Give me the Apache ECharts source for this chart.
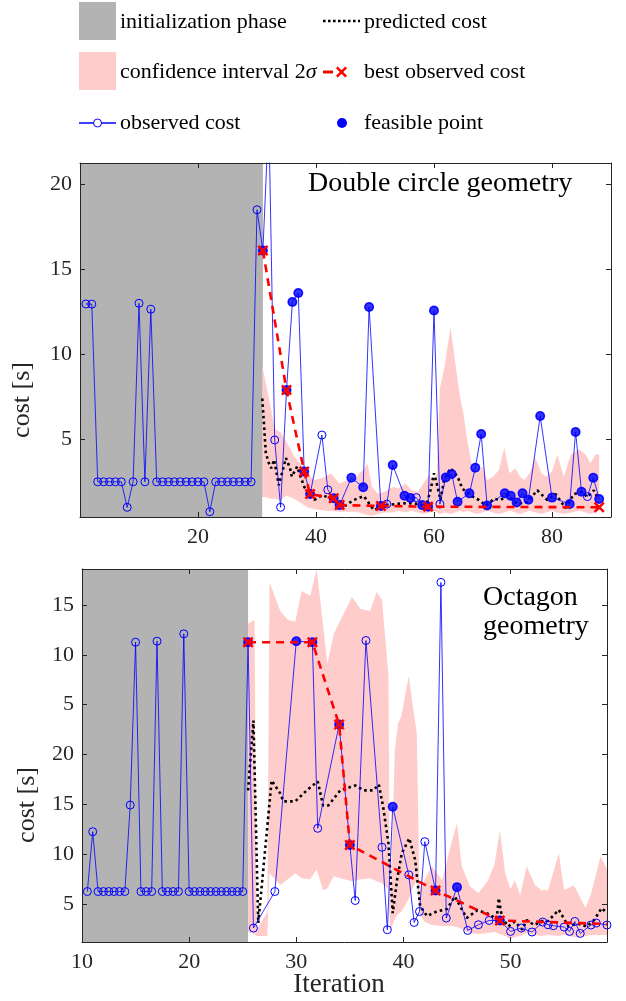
<!DOCTYPE html>
<html><head><meta charset="utf-8">
<script src="https://cdn.jsdelivr.net/npm/echarts@6/dist/echarts.min.js"></script>
<style>html,body{margin:0;padding:0;background:#fff}#c{width:626px;height:1001px}</style>
</head><body><div id="c"></div>
<script>
// ===== Top panel: Double circle geometry =====
const topInitEnd = 31;
const topObsX = [1,2,3,4,5,6,7,8,9,10,11,12,13,14,15,16,17,18,19,20,21,22,23,24,25,26,27,28,29,30,31,32,33,34,35,36,37,38,39,41,42,43,44,46,48,49,51,52,53,55,56,57,58,59,60,61,62,63,64,66,67,68,69,72,73,74,75,76,78,80,83,84,85,86,87,88];
const topObsY = [12.96,12.95,2.5,2.5,2.5,2.5,2.5,1.0,2.5,13.0,2.5,12.65,2.5,2.5,2.5,2.5,2.5,2.5,2.5,2.5,2.5,0.74,2.5,2.5,2.5,2.5,2.5,2.5,2.5,18.5,16.1,24,4.96,1.0,7.9,13.08,13.6,3.1,1.78,5.25,2.03,1.53,1.13,2.74,2.18,12.78,1.08,1.19,3.49,1.68,1.55,1.57,1.13,1.04,12.57,1.19,2.76,2.96,1.33,1.82,3.33,5.31,1.11,1.82,1.68,1.29,1.82,1.45,6.37,1.57,1.19,5.43,1.92,1.63,2.74,1.49];
const topFeasX = [31,35,36,37,38,39,43,44,46,48,49,51,53,55,56,58,59,60,62,63,64,66,67,68,69,72,73,74,75,76,78,80,83,84,85,87,88];
const topBestX = [31,35,38,39,43,44,51,59,88];
const topBestY = [16.1,7.9,3.1,1.78,1.53,1.13,1.08,1.04,1.0];
const topBestMark = [1,1,1,1,1,1,1,1,1];
const topPredX = [30.9,31.5,32,32.4,32.9,33.7,34.9,35.6,35.9,36.8,38,39.7,41.1,42.5,43.5,44.7,46.4,48.1,49.8,51.8,53.7,55.5,57.5,58.6,59.4,60,60.6,61.1,61.7,62.8,64,64.8,66.2,67.6,68.8,70.2,71.3,72.4,74.1,75.8,77.5,79.2,80.6,81.8,82.3,83.7,85.1,86,87.1,87.7];
const topPredY = [7.4,4.2,3.6,3.3,3.8,2.3,3.9,3.3,2.8,3.4,2.2,1.43,1.72,1.5,1.3,1.04,1.43,1.66,0.84,1.13,1.2,1.25,1.2,0.96,2.0,3.0,2.2,1.43,2.6,3.3,2.8,2.1,1.7,1.43,1.1,1.5,1.43,1.7,1.2,1.3,2.0,1.43,1.78,1.2,0.96,1.78,1.9,1.6,2.0,1.6];
const topCiX  = [30.9,31.5,32.3,33.0,34.0,34.9,36.3,37.5,38.5,39.7,40.8,41.6,42.5,44.0,45.5,46.4,47.3,48.1,48.7,49.5,50.5,51.5,53.0,54.0,55.2,56.2,57.2,58.2,59.2,60.0,60.5,61.0,61.8,62.8,63.6,64.4,65.0,65.6,66.5,67.3,68.2,69.0,70.0,71.0,71.9,72.8,73.8,74.6,75.3,76.2,77.2,78.2,79.0,80.0,80.9,82.0,83.2,84.6,85.7,86.5,87.4,88.0];
const topCiHi = [9.3,8.3,6.9,5.6,5.4,4.9,4.0,3.5,3.0,2.6,2.7,2.8,3.0,2.4,2.6,2.4,3.0,3.2,3.6,2.2,1.8,1.9,2.2,2.1,2.4,2.0,1.9,2.4,2.9,2.5,3.0,8.0,9.3,11.6,9.5,7.5,6.5,5.0,3.3,3.0,3.4,2.6,2.8,3.2,4.5,3.0,3.3,2.8,2.6,3.0,3.9,3.0,2.8,3.1,4.1,2.8,4.1,4.4,4.1,3.6,4.1,4.1];
const topCiLo = [1.6,1.6,1.5,1.5,1.4,1.7,1.5,1.24,1.0,0.9,0.84,0.8,0.78,0.74,0.74,0.74,0.7,0.6,0.55,0.5,0.6,0.7,0.7,0.8,0.7,0.8,0.7,0.6,0.7,0.8,0.7,0.6,0.7,0.6,0.7,0.8,0.7,0.8,0.7,0.6,0.7,0.8,0.7,0.6,0.7,0.8,0.7,0.6,0.7,0.8,0.7,0.6,0.7,0.8,0.7,0.6,0.7,0.8,0.7,0.6,0.7,0.8];

// ===== Bottom panel: Octagon geometry =====
const botInitStart = 10, botInitEnd = 25.5;
const botObsX = [10.5,11,11.5,12,12.5,13,13.5,14,14.5,15,15.5,16,16.5,17,17.5,18,18.5,19,19.5,20,20.5,21,21.5,22,22.5,23,23.5,24,24.5,25,25.5,26,28,30,31.5,32,34,35,35.5,36.5,38,38.5,39,40.5,41,41.5,42,43,43.5,44,45,46,47,48,49,50,51,52,53,53.5,54,55,55.5,56,56.5,57.5,58,59];
const botObsY = [6.26,12.26,6.26,6.26,6.26,6.26,6.26,6.26,14.93,31.26,6.26,6.26,6.26,31.36,6.26,6.26,6.26,6.26,32.1,6.26,6.26,6.26,6.26,6.26,6.26,6.26,6.26,6.26,6.26,6.26,31.26,2.6,6.26,31.36,31.26,12.6,23.0,10.93,5.36,31.43,10.7,2.43,14.76,7.93,3.16,4.26,11.26,6.36,37.26,3.6,6.7,2.36,2.93,3.36,3.36,2.26,2.6,2.2,3.2,2.93,2.83,2.7,2.26,3.26,2.06,2.9,3.1,2.9];
const botFeasX = [25.5,30,31.5,34,35,39,43,45,49];
const botBestX = [25.5,31.5,34,35,43,49,59];
const botBestY = [31.26,31.26,23.0,10.93,6.36,3.36,3.0];
const botBestMark = [1,1,1,1,1,1,0];
const botPredX = [25.5,26.0,26.45,27.7,28.5,28.8,29.9,30.97,32.0,32.5,33.0,34.1,35.5,36.3,37.2,37.7,38.1,38.6,39.0,39.4,39.85,40.55,41.1,41.56,42.2,43.1,44.06,44.8,45.9,46.9,47.95,48.7,48.9,49.2,49.8,50.4,51.1,51.5,52.2,52.9,53.5,54.5,55.4,56.2,57.1,57.8,58.5,59.0];
const botPredY = [16.4,23.4,3.1,17.4,16.1,15.3,15.3,16.4,17.3,14.9,14.9,16.4,16.9,16.4,16.4,17.0,14.8,11.1,4.1,7.4,10.1,11.6,9.4,4.8,3.8,4.26,4.5,5.76,3.6,4.4,4.0,3.5,5.6,3.6,2.76,3.26,2.43,3.4,2.9,3.3,3.3,4.43,2.76,3.06,2.76,3.4,4.6,4.1];
const botCiX  = [25.5,26.1,26.3,27.3,27.5,28.5,29.2,29.9,30.5,31.3,31.9,32.5,32.9,33.5,34.1,35.2,36.0,36.9,37.5,38.0,38.6,38.75,39.2,39.5,39.8,40.5,40.8,41.25,41.5,42.0,42.65,43.6,44.4,45.0,45.45,46.2,47.0,47.9,48.5,49.0,49.5,50.0,50.4,50.9,51.5,52.3,52.9,53.5,54.5,55.0,55.9,57.0,57.5,58.4,59.0];
const botCiLo = [2.2,2.0,1.8,1.8,8.1,6.9,7.5,8.1,7.6,7.5,8.5,6.4,6.6,7.8,7.6,7.3,7.5,7.6,7.3,7.1,6.5,2.3,3.5,4.0,4.2,5.5,6.5,7.4,4.0,3.2,2.9,2.8,2.8,2.7,2.5,2.1,2.0,2.1,2.2,2.0,1.8,1.5,1.7,1.8,2.1,1.9,1.8,1.9,1.8,1.9,1.7,1.8,1.9,1.9,1.9];
const botCiHi = [33.1,33.5,2.4,4.2,37.3,34.4,33.5,33.3,36.4,35.9,38.6,33.0,29.1,32.1,33.4,35.8,34.6,34.4,36.3,35.5,27.9,4.0,20.5,23.1,23.8,27.9,25.4,22.1,6.1,7.5,8.8,7.4,10.8,13.1,8.8,6.8,6.1,7.4,9.0,12.4,8.1,6.5,7.4,5.9,8.8,6.9,6.4,6.4,10.1,6.4,6.9,4.6,6.0,9.8,8.5];

// axis tick labels
const topXTicks = [20,40,60,80];
const topYTicks = [5,10,15,20];
const botXTicks = [10,20,30,40,50];
const botYTicks = [5,10,15,20,25,30,35];

const FONT = "'Liberation Serif','DejaVu Serif',serif";
const AX = '#262626';
const BLUE = '#0000ff', RED = '#ff0000', PINK = '#ffcccc', GREY = '#b3b3b3';
const XSYM = 'path://M0,1.6L1.6,0L5,3.4L8.4,0L10,1.6L6.6,5L10,8.4L8.4,10L5,6.6L1.6,10L0,8.4L3.4,5Z';

const pairs = (xs, ys) => xs.map((x, i) => [x, ys[i]]);
const feas = (fx, ox, oy) => fx.map(x => [x, oy[ox.indexOf(x)]]);
const best = (bx, by, bm) => bx.map((x, i) => ({value: [x, by[i]], symbol: bm[i] ? XSYM : 'none'}));

function xAx(grid, pos, min, max, ticks, labels) {
  return {type: 'value', gridIndex: grid, position: pos, min: min, max: max, z: 10,
    axisLine: {show: true, onZero: false, lineStyle: {color: AX, width: 1}},
    axisTick: {show: true, inside: true, length: 5, customValues: ticks, lineStyle: {color: AX}},
    axisLabel: {show: labels, customValues: ticks, fontSize: 22, fontFamily: FONT, color: AX, margin: 9},
    splitLine: {show: false}};
}
function yAx(grid, pos, min, max, ticks, labels, fmt) {
  return {type: 'value', gridIndex: grid, position: pos, min: min, max: max, z: 10,
    axisLine: {show: true, onZero: false, lineStyle: {color: AX, width: 1}},
    axisTick: {show: true, inside: true, length: 5, customValues: ticks, lineStyle: {color: AX}},
    axisLabel: {show: labels, customValues: ticks, fontSize: 22, fontFamily: FONT, color: AX, margin: 8, formatter: fmt},
    splitLine: {show: false}};
}

function panelSeries(xi, yi, d) {
  return [
    {type: 'line', xAxisIndex: xi, yAxisIndex: yi, data: pairs(d.ciX, d.ciHi), symbol: 'none', z: 1,
      lineStyle: {width: 0, opacity: 0}, areaStyle: {color: PINK, opacity: 1, origin: 'start'},
      markArea: {silent: true, itemStyle: {color: GREY, opacity: 1}, data: [[{xAxis: d.initStart}, {xAxis: d.initEnd}]]}},
    {type: 'line', xAxisIndex: xi, yAxisIndex: yi, data: pairs(d.ciX, d.ciLo), symbol: 'none', z: 1,
      lineStyle: {width: 0, opacity: 0}, areaStyle: {color: '#ffffff', opacity: 1, origin: 'start'}},
    {type: 'line', xAxisIndex: xi, yAxisIndex: yi, data: pairs(d.predX, d.predY), symbol: 'none', z: 3,
      lineStyle: {color: '#000', width: 2.6, type: [2.6, 3.2], cap: 'butt'}},
    {type: 'line', xAxisIndex: xi, yAxisIndex: yi, data: pairs(d.obsX, d.obsY), z: 4,
      symbol: 'circle', symbolSize: 8, showAllSymbol: true,
      lineStyle: {color: BLUE, width: 1, opacity: 0.8},
      itemStyle: {color: 'rgba(0,0,0,0)', borderColor: BLUE, borderWidth: 1}},
    {type: 'scatter', xAxisIndex: xi, yAxisIndex: yi, data: feas(d.feasX, d.obsX, d.obsY), z: 5,
      symbol: 'circle', symbolSize: 10, itemStyle: {color: BLUE}},
    {type: 'line', xAxisIndex: xi, yAxisIndex: yi, data: best(d.bestX, d.bestY, d.bestMark), z: 6,
      symbolSize: 11, showAllSymbol: true,
      lineStyle: {color: RED, width: 2.6, type: [8, 6]}, itemStyle: {color: RED}}
  ];
}

const topD = {ciX: topCiX, ciHi: topCiHi, ciLo: topCiLo, initStart: 0, initEnd: topInitEnd,
  predX: topPredX, predY: topPredY, obsX: topObsX, obsY: topObsY, feasX: topFeasX,
  bestX: topBestX, bestY: topBestY, bestMark: topBestMark};
const botD = {ciX: botCiX, ciHi: botCiHi, ciLo: botCiLo, initStart: botInitStart, initEnd: botInitEnd,
  predX: botPredX, predY: botPredY, obsX: botObsX, obsY: botObsY, feasX: botFeasX,
  bestX: botBestX, bestY: botBestY, bestMark: botBestMark};

const txt = (x, y, text, size, extra) => Object.assign({type: 'text', x: x, y: y, z: 100,
  style: {text: text, fontSize: size, fontFamily: FONT, fill: '#000', align: 'left', verticalAlign: 'middle'}}, extra || {});

// legend X marker as polygon centred at (341,72)
const xPoly = [[0,1.6],[1.6,0],[5,3.4],[8.4,0],[10,1.6],[6.6,5],[10,8.4],[8.4,10],[5,6.6],[1.6,10],[0,8.4],[3.4,5]]
  .map(p => [336 + p[0] * 1.1, 66.5 + p[1] * 1.1]);

const graphic = [
  {type: 'rect', shape: {x: 79, y: 2, width: 37, height: 38}, style: {fill: GREY}},
  {type: 'rect', shape: {x: 79, y: 52, width: 37, height: 38}, style: {fill: PINK}},
  {type: 'line', shape: {x1: 79, y1: 123, x2: 116, y2: 123}, style: {stroke: BLUE, lineWidth: 1.5}},
  {type: 'circle', shape: {cx: 97.5, cy: 123, r: 4}, style: {fill: '#fff', stroke: BLUE, lineWidth: 1}},
  {type: 'line', shape: {x1: 323, y1: 21, x2: 360, y2: 21}, style: {stroke: '#000', lineWidth: 2.6, lineDash: [2.6, 2.4]}},
  {type: 'line', shape: {x1: 323, y1: 72, x2: 333, y2: 72}, style: {stroke: RED, lineWidth: 3}},
  {type: 'polygon', shape: {points: xPoly}, style: {fill: RED}},
  {type: 'circle', shape: {cx: 342, cy: 123, r: 5}, style: {fill: BLUE}},
  txt(120, 22, 'initialization phase', 22),
  {type: 'text', x: 120, y: 72, z: 100, style: {text: 'confidence interval 2{s|σ}', fontSize: 22, fontFamily: FONT, fill: '#000', align: 'left', verticalAlign: 'middle',
    rich: {s: {fontStyle: 'italic', fontSize: 22, fontFamily: FONT, fill: '#000'}}}},
  txt(120, 123, 'observed cost', 22),
  txt(364, 22, 'predicted cost', 22),
  txt(364, 72, 'best observed cost', 22),
  txt(364, 123, 'feasible point', 22),
  txt(308, 184, 'Double circle geometry', 28),
  txt(483, 598, 'Octagon', 28),
  txt(483, 627, 'geometry', 28),
  {type: 'text', x: 22, y: 400, z: 100, rotation: Math.PI / 2, style: {text: 'cost [s]', fontSize: 26, fontFamily: FONT, fill: AX, align: 'center', verticalAlign: 'middle'}},
  {type: 'text', x: 27, y: 805, z: 100, rotation: Math.PI / 2, style: {text: 'cost [s]', fontSize: 26, fontFamily: FONT, fill: AX, align: 'center', verticalAlign: 'middle'}},
  {type: 'text', x: 339, y: 985, z: 100, style: {text: 'Iteration', fontSize: 27, fontFamily: FONT, fill: AX, align: 'center', verticalAlign: 'middle'}}
];

const chart = echarts.init(document.getElementById('c'), null, {renderer: 'canvas'});
chart.setOption({
  animation: false,
  backgroundColor: '#fff',
  grid: [
    {left: 80, top: 163, right: 15, bottom: 484},
    {left: 82, top: 569, right: 19, bottom: 59}
  ],
  xAxis: [
    xAx(0, 'bottom', 0, 90, topXTicks, true),
    xAx(0, 'top', 0, 90, topXTicks, false),
    xAx(1, 'bottom', 10, 59, botXTicks, true),
    xAx(1, 'top', 10, 59, botXTicks, false)
  ],
  yAxis: [
    yAx(0, 'left', 0.43, 21.25, topYTicks, true),
    yAx(0, 'right', 0.43, 21.25, topYTicks, false),
    yAx(1, 'left', 1.2, 38.6, botYTicks, true, v => String(v > 20 ? v - 20 : v)),
    yAx(1, 'right', 1.2, 38.6, botYTicks, false)
  ],
  series: panelSeries(0, 0, topD).concat(panelSeries(2, 2, botD)),
  graphic: graphic
});
</script></body></html>
